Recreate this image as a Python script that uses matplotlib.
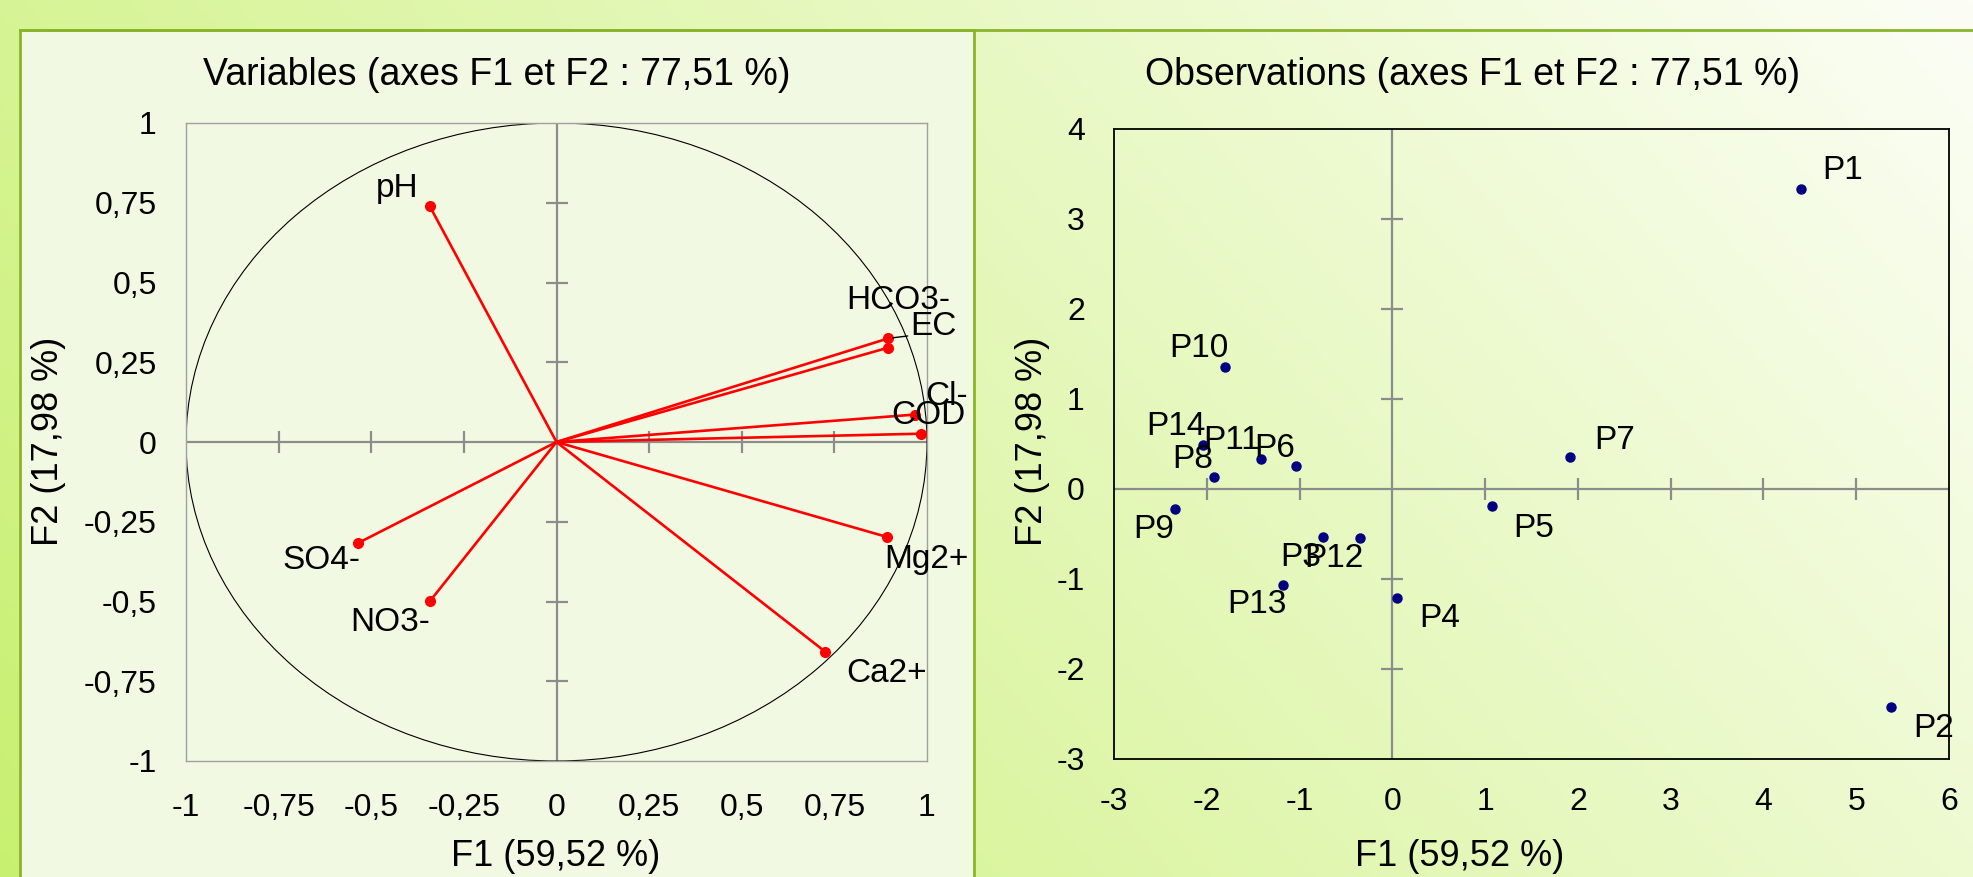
import numpy as np
import matplotlib.pyplot as plt
from matplotlib.patches import Rectangle, Circle
from matplotlib.lines import Line2D

plt.rcParams['font.family'] = ['Liberation Sans', 'DejaVu Sans']
plt.rcParams['axes.unicode_minus'] = False

# variables (correlation circle)
var_names = ['pH', 'EC', 'HCO3-', 'Cl-', 'COD', 'Mg2+', 'Ca2+', 'SO4-', 'NO3-']
var_f1 = [-0.342, 0.896, 0.896, 0.968, 0.983, 0.893, 0.726, -0.536, -0.341]
var_f2 = [0.739, 0.325, 0.296, 0.086, 0.026, -0.298, -0.658, -0.317, -0.498]

# observations
obs_names = ['P1', 'P2', 'P3', 'P4', 'P5', 'P6', 'P7', 'P8', 'P9', 'P10',
             'P11', 'P12', 'P13', 'P14']
obs_f1 = [4.404, 5.373, -0.743, 0.047, 1.078, -1.038, 1.919, -1.918, -2.338,
          -1.803, -1.418, -0.351, -1.178, -2.043]
obs_f2 = [3.333, -2.423, -0.533, -1.206, -0.187, 0.259, 0.357, 0.133, -0.219,
          1.357, 0.330, -0.547, -1.065, 0.492]

var_ticks = [-1, -0.75, -0.5, -0.25, 0, 0.25, 0.5, 0.75, 1]
var_ticklabels = ['-1', '-0,75', '-0,5', '-0,25', '0', '0,25', '0,5', '0,75', '1']
obs_xticks = [-3, -2, -1, 0, 1, 2, 3, 4, 5, 6]
obs_yticks = [-3, -2, -1, 0, 1, 2, 3, 4]

title_var = 'Variables (axes F1 et F2 : 77,51 %)'
title_obs = 'Observations (axes F1 et F2 : 77,51 %)'
xlabel = 'F1 (59,52 %)'
ylabel = 'F2 (17,98 %)'

# label placement: (ha, dx px, dy px)
var_place = {'pH': ('right', -11, 18), 'EC': ('left', 22, 12),
             'HCO3-': ('center', 10, 47), 'Cl-': ('left', 10, 18),
             'COD': ('center', 8, 18), 'Mg2+': ('left', -3, -22),
             'Ca2+': ('left', 21, -22), 'SO4-': ('right', 3, -17),
             'NO3-': ('right', 0, -22)}
obs_place = {'P1': ('left', 21, 19), 'P2': ('left', 22, -21),
             'P3': ('right', -2, -21), 'P4': ('left', 23, -21),
             'P5': ('left', 21, -23), 'P6': ('right', -1, 17),
             'P7': ('left', 24, 16), 'P8': ('right', -1, 18),
             'P9': ('right', -1, -21), 'P10': ('right', 3, 18),
             'P11': ('right', -1, 19), 'P12': ('right', 4, -20),
             'P13': ('right', 4, -20), 'P14': ('right', 3, 18)}

W, H = 1973, 877
fig = plt.figure(figsize=(W / 100, H / 100), dpi=100)

# background gradient
bg = fig.add_axes([0, 0, 1, 1], zorder=-10)
xx, yy = np.meshgrid(np.linspace(0, 1, 400), np.linspace(0, 1, 200))
g = np.clip(0.72 - 0.72 * xx + 0.28 * yy, 0, 1)[..., None]
white = np.array([252, 254, 246]) / 255
green = np.array([200, 240, 112]) / 255
bg.imshow(white * (1 - g) + green * g, extent=[0, 1, 0, 1], aspect='auto',
          origin='upper')
bg.set_axis_off()

frame_col = '#8ab52a'
fig.patches.append(Rectangle((20 / W, -0.01), (974 - 20) / W, 1 - 30 / H + 0.01,
                             transform=fig.transFigure, facecolor='#f2f9e3',
                             edgecolor=frame_col, lw=2, zorder=-5))
fig.lines.append(Line2D([20 / W, 1], [1 - 30 / H, 1 - 30 / H],
                        transform=fig.transFigure, color=frame_col, lw=2, zorder=-4))

cross_col = '#8c8c8c'
fs_tick = 23
fs_lab = 24
fs_axis = 26
fs_title = 27


def setup(ax, xt, yt, xl, yl, pad_x, edge):
    ax.patch.set_alpha(0)
    ax.set_xticks(xt)
    ax.set_yticks(yt)
    ax.set_xticklabels(xl, fontsize=fs_tick)
    ax.set_yticklabels(yl, fontsize=fs_tick)
    ax.tick_params(length=0, pad=21)
    ax.tick_params(axis='x', pad=pad_x)
    for s in ax.spines.values():
        s.set_color(edge[0])
        s.set_linewidth(edge[1])
    ax.axhline(0, color=cross_col, lw=1.6, zorder=1)
    ax.axvline(0, color=cross_col, lw=1.6, zorder=1)
    inner_x = [t for t in xt if t not in (0, xt[0], xt[-1])]
    inner_y = [t for t in yt if t not in (0, yt[0], yt[-1])]
    ax.plot(inner_x, np.zeros(len(inner_x)), ls='none', marker='|', ms=16,
            mew=1.6, color=cross_col, zorder=1)
    ax.plot(np.zeros(len(inner_y)), inner_y, ls='none', marker='_', ms=16,
            mew=1.6, color=cross_col, zorder=1)


# left: correlation circle
ax1 = fig.add_axes([186 / W, 1 - 761 / H, 741 / W, 638 / H])
ax1.set_xlim(-1, 1)
ax1.set_ylim(-1, 1)
setup(ax1, var_ticks, var_ticks, var_ticklabels, var_ticklabels, 23, ('#a0a0a0', 1))
ax1.add_patch(Circle((0, 0), 1, fill=False, color='black', lw=0.8, zorder=2))
for name, x, y in zip(var_names, var_f1, var_f2):
    ax1.plot([0, x], [0, y], color='red', lw=1.9, zorder=3)
    ax1.plot(x, y, 'o', color='red', ms=7, zorder=4)
    ha, dx, dy = var_place[name]
    arrow = None
    if name == 'EC':
        arrow = dict(arrowstyle='-', color='black', lw=1, shrinkA=0, shrinkB=3,
                     relpos=(0, 0.2))
    ax1.annotate(name, (x, y), xytext=(dx * 0.72, dy * 0.72),
                 textcoords='offset points', ha=ha, va='center',
                 fontsize=fs_lab, arrowprops=arrow, zorder=5)

# right: observations
ax2 = fig.add_axes([1114 / W, 1 - 759 / H, 835 / W, 630 / H])
ax2.set_xlim(-3, 6)
ax2.set_ylim(-3, 4)
setup(ax2, obs_xticks, obs_yticks, [str(t) for t in obs_xticks],
      [str(t) for t in obs_yticks], 20, ('black', 1.3))
ax2.plot(obs_f1, obs_f2, 'o', color='#000080', ms=6.5, ls='none', zorder=4)
for name, x, y in zip(obs_names, obs_f1, obs_f2):
    ha, dx, dy = obs_place[name]
    ax2.annotate(name, (x, y), xytext=(dx * 0.72, dy * 0.72),
                 textcoords='offset points', ha=ha, va='center',
                 fontsize=fs_lab, zorder=5)

# titles and axis labels
fig.text(497 / W, 1 - 75 / H, title_var, ha='center', va='center', fontsize=fs_title)
fig.text(1473 / W, 1 - 75 / H, title_obs, ha='center', va='center', fontsize=fs_title)
fig.text(556 / W, 1 - 856 / H, xlabel, ha='center', va='center', fontsize=fs_axis)
fig.text(1460 / W, 1 - 856 / H, xlabel, ha='center', va='center', fontsize=fs_axis)
fig.text(48 / W, 1 - 441 / H, ylabel, ha='center', va='center', rotation=90,
         fontsize=fs_axis)
fig.text(1032 / W, 1 - 441 / H, ylabel, ha='center', va='center', rotation=90,
         fontsize=fs_axis)

fig.savefig('out.png', dpi=100)
